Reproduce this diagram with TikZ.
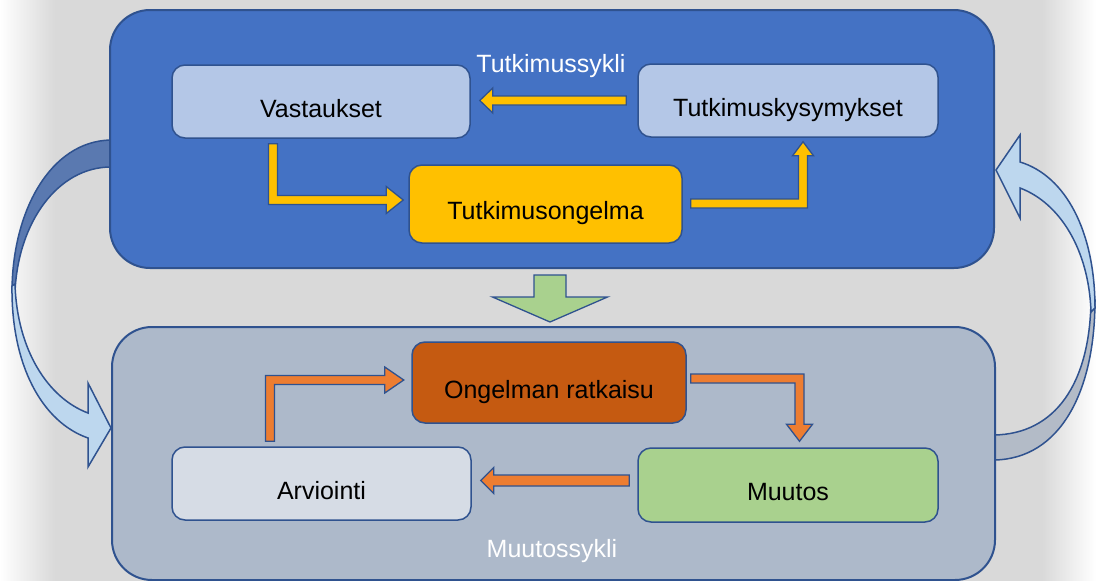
\documentclass[tikz,border=0pt]{standalone}
\usepackage{fontspec}
\setmainfont{Liberation Sans}
\usetikzlibrary{calc,backgrounds}

\definecolor{bggray}{HTML}{D9D9D9}
\definecolor{boxline}{HTML}{2F528F}
\definecolor{topfill}{HTML}{4472C4}
\definecolor{botfill}{HTML}{ADB9CA}
\definecolor{palblue}{HTML}{B4C7E7}
\definecolor{gold}{HTML}{FFC000}
\definecolor{rust}{HTML}{C55A11}
\definecolor{paleslate}{HTML}{D6DCE5}
\definecolor{leaf}{HTML}{A9D18E}
\definecolor{tangerine}{HTML}{ED7D31}
\definecolor{backdark}{HTML}{5A79B0}
\definecolor{backgray}{HTML}{B3BBC7}
\definecolor{frontlight}{HTML}{BDD7EE}

\begin{document}
\begin{tikzpicture}[x=1pt,y=-1pt,
  bigbox/.style={draw=boxline, line width=2pt, rounded corners=40pt, inner sep=0pt},
  stepbox/.style={draw=boxline, line width=1.5pt, rounded corners=13pt, inner sep=0pt,
    minimum width=299pt, minimum height=73pt, text height=31pt, text depth=0pt,
    font=\fontsize{25}{30}\selectfont},
  cycletitle/.style={anchor=base, text=white, inner sep=0pt, font=\fontsize{25}{30}\selectfont},
  blockarrow/.style={draw=boxline, line width=1.3pt, line join=miter, fill=#1},
  curvedarrow/.style={draw=boxline, line width=1.5pt, line join=miter, fill=#1}
]
\useasboundingbox (0,0) rectangle (1096,581);

% the two cycle panels
\node[bigbox, fill=topfill, minimum width=884pt, minimum height=258pt] (top) at (552,139) {};
\node[bigbox, fill=botfill, minimum width=883pt, minimum height=253pt] (bot) at (553.5,453.5) {};

\begin{pgfonlayer}{background}
  % backdrop with pale side margins
  \fill[bggray] (0,0) rectangle (1096,581);
  \shade[left color=white, right color=bggray] (0,0) rectangle (55,581);
  \shade[left color=bggray, right color=white] (1042,0) rectangle (1096,581);
  % left: curved arrow from the research cycle down into the change cycle
  \path[curvedarrow=backdark] ($(top.west)+(2,1)$) .. controls (50,141) and (12,212) .. (12,292)
     -- (15,292) .. controls (18,222) and (58,167) .. ($(top.west)+(2,28)$) -- cycle;
  \path[curvedarrow=frontlight] (12,286) .. controls (11,365) and (42,422) .. (88,438)
     -- (88,467) -- ($(bot.west)+(0,-25.5)$) -- (88,383) -- (88,413)
     .. controls (48,398) and (17,350) .. (15,284) -- cycle;
  % right: curved arrow from the change cycle back up into the research cycle
  \path[curvedarrow=backgray] ($(bot.east)+(-2,6.5)$) .. controls (1060,459) and (1095,392) .. (1095,300)
     -- (1091,300) .. controls (1090,384) and (1055,434) .. ($(bot.east)+(-2,-18.5)$) -- cycle;
  \path[curvedarrow=frontlight] (1095,308) .. controls (1095,232) and (1066,176) .. (1020,162)
     -- (1020,135) -- ($(top.east)+(1,31)$) -- (1020,218) -- (1020,188)
     .. controls (1060,203) and (1089,250) .. (1091,312) -- cycle;
\end{pgfonlayer}

% panel titles
\node[cycletitle] (ttop) at (551,72) {Tutkimussykli};
\node[cycletitle] (tbot) at (552,557) {Muutossykli};

% research cycle steps
\node[stepbox, fill=palblue, minimum width=298pt] (vast) at (321,101.5) {Vastaukset};
\node[stepbox, fill=palblue, minimum width=300pt] (kys) at (788,100.5) {Tutkimuskysymykset};
\node[stepbox, fill=gold, minimum width=273pt, minimum height=78pt] (ongel) at (545.5,204) {Tutkimusongelma};

% change cycle steps
\node[stepbox, fill=rust, minimum width=274pt, minimum height=81pt] (ratk) at (549,382.5) {Ongelman ratkaisu};
\node[stepbox, fill=paleslate, minimum width=299pt] (arv) at (321.5,483.5) {Arviointi};
\node[stepbox, fill=leaf, minimum width=300pt, minimum height=74pt] (muut) at (788,485) {Muutos};

% research cycle connectors
\coordinate (a1t) at ($(vast.east)+(9,-1)$);
\coordinate (a1s) at ($(kys.west)+(-11,0)$);
\draw[blockarrow=gold] (a1t) -- ++(13,-12.5) |- ($(a1s)+(0,-4.5)$) -- ++(0,9) -| ($(a1t)+(13,12.5)$) -- cycle;

\coordinate (a2s) at ($(vast.south)+(-48,5)$);
\coordinate (a2t) at ($(ongel.west)+(-5,-4)$);
\draw[blockarrow=gold] (a2t) -- ++(-17,-13.5) -- ++(0,9) -| ($(a2s)+(4.5,0)$) -- ++(-9,0)
   |- ($(a2t)+(-17,4.5)$) -- ++(0,9) -- cycle;

\coordinate (a3s) at ($(ongel.east)+(8,-0.5)$);
\coordinate (a3t) at ($(kys.south)+(15,4)$);
\draw[blockarrow=gold] (a3t) -- ++(10.5,14) -- ++(-6,0) |- ($(a3s)+(0,4.5)$) -- ++(0,-9)
   -| ($(a3t)+(-4.5,14)$) -- ++(-6,0) -- cycle;

% from the research cycle to the change cycle
\coordinate (gs) at ($(top.south)+(-2,6)$);
\coordinate (gt) at ($(bot.north)+(-3.5,-4)$);
\draw[blockarrow=leaf] (gt) -- ++(-57.5,-25) -- ++(41.5,0) -- ($(gs)+(-16,0)$) -- ($(gs)+(16,0)$)
   -- ($(gt)+(16,-25)$) -- ++(41.5,0) -- cycle;

% change cycle connectors
\coordinate (b1s) at ($(arv.north)+(-51.5,-5)$);
\coordinate (b1t) at ($(ratk.west)+(-7.5,-2.5)$);
\draw[blockarrow=tangerine] (b1t) -- ++(-19,13) -- ++(0,-8.5) -| ($(b1s)+(4.5,0)$) -- ++(-9,0)
   |- ($(b1t)+(-19,-4.5)$) -- ++(0,-8.5) -- cycle;

\coordinate (b2s) at ($(ratk.east)+(4,-4)$);
\coordinate (b2t) at ($(muut.north)+(11.5,-6)$);
\draw[blockarrow=tangerine] (b2t) -- ++(-13,-17) -- ++(8.5,0) |- ($(b2s)+(0,4.5)$) -- ++(0,-9)
   -| ($(b2t)+(4.5,-17)$) -- ++(8.5,0) -- cycle;

\coordinate (b3t) at ($(arv.east)+(9,-3)$);
\coordinate (b3s) at ($(muut.west)+(-8,-4.5)$);
\draw[blockarrow=tangerine] (b3t) -- ++(13,-13) |- ($(b3s)+(0,-5.5)$) -- ++(0,11) -| ($(b3t)+(13,13)$) -- cycle;
\end{tikzpicture}
\end{document}
